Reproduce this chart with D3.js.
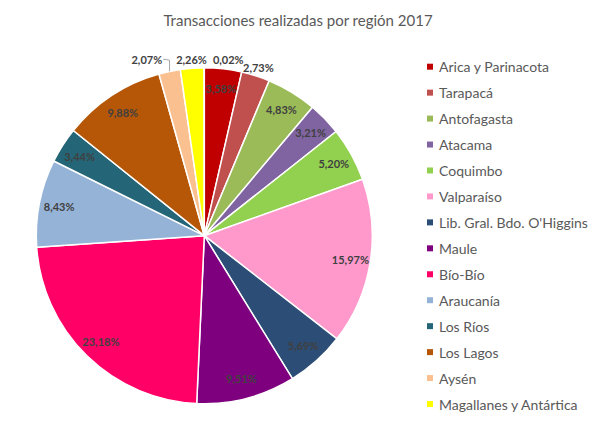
<!DOCTYPE html>
<html>
<head>
<meta charset="utf-8">
<script src="https://cdn.jsdelivr.net/npm/d3@7"></script>
<style>
  body { margin: 0; background: #fff; }
  svg { font-family: Lato, "Open Sans", sans-serif; }
</style>
</head>
<body>
<div id="chart"></div>
<script>
// Transacciones por región, 2017 (percent of total)
const regions = ["Arica y Parinacota", "Tarapacá", "Antofagasta", "Atacama", "Coquimbo",
  "Valparaíso", "Lib. Gral. Bdo. O'Higgins", "Maule", "Bío-Bío", "Araucanía",
  "Los Ríos", "Los Lagos", "Aysén", "Magallanes y Antártica", ""];
const values = [3.58, 2.73, 4.83, 3.21, 5.20, 15.97, 5.69, 9.51, 23.18, 8.43, 3.44, 9.88, 2.07, 2.26, 0.02];
const colors = ["#c00000", "#c0504d", "#9bbb59", "#8064a2", "#92d050", "#ff99cc", "#2c4d75",
  "#7f007f", "#ff0066", "#95b3d7", "#246677", "#b65708", "#fac090", "#ffff00", "#4bacc6"];
const title = "Transacciones realizadas por región 2017";

const width = 600, height = 434;
const cx = 204.3, cy = 235.7, R = 168;
const labelR = 148, outsideR = 177;

let data = regions.map((r, i) => ({ region: r, value: values[i], color: colors[i] }));

let svg = d3.select("#chart").append("svg")
  .attr("width", width)
  .attr("height", height);

svg.append("text")
  .attr("x", 298)
  .attr("y", 26)
  .attr("text-anchor", "middle")
  .attr("font-size", 15)
  .attr("fill", "#595959")
  .text(title);

let pie = d3.pie().sort(null).value(d => d.value);
let arc = d3.arc().innerRadius(0).outerRadius(R);
let arcs = pie(data);

let g = svg.append("g").attr("transform", "translate(" + cx + "," + cy + ")");

g.selectAll("path")
  .data(arcs)
  .enter()
  .append("path")
  .attr("d", arc)
  .attr("fill", d => d.data.color)
  .attr("stroke", "#fff")
  .attr("stroke-width", 1.5)
  .attr("stroke-linejoin", "round");

function fmt(v) {
  return v.toFixed(2).replace(".", ",") + "%";
}

// labels: inside if the text (roughly) fits along the arc, otherwise outside
let labels = g.append("g")
  .attr("font-size", 11)
  .attr("font-weight", "bold")
  .attr("fill", "#404040");

let placed = [];
arcs.forEach(d => {
  let mid = (d.startAngle + d.endAngle) / 2;
  let t = labels.append("text")
    .attr("text-anchor", "middle")
    .attr("dominant-baseline", "central")
    .text(fmt(d.data.value));
  let w = t.node().getComputedTextLength();
  let arcLen = (d.endAngle - d.startAngle) * labelR;
  let inside = arcLen > w - 3;
  let r = inside ? labelR : outsideR;
  d.lab = { node: t, w: w, h: 12, mid: mid, inside: inside,
            x: Math.sin(mid) * r, y: -Math.cos(mid) * r, x0: Math.sin(mid) * r };
});

// resolve overlaps among outside labels: bigger slices keep their spot,
// labels pushed counter-clockwise get extra room for a leader line
let outside = arcs.filter(d => !d.lab.inside)
  .sort((a, b) => b.data.value - a.data.value);
const gap = 6, leaderRoom = 8;
outside.forEach(d => {
  let L = d.lab;
  placed.forEach(p => {
    let P = p.lab;
    let overlapX = Math.abs(L.x - P.x) < (L.w + P.w) / 2 + gap;
    let overlapY = Math.abs(L.y - P.y) < (L.h + P.h) / 2;
    if (overlapX && overlapY) {
      let dir = L.x0 < P.x ? -1 : 1;
      let room = dir < 0 ? gap + leaderRoom : gap;
      L.x = P.x + dir * ((L.w + P.w) / 2 + room);
      L.y = P.y;
      L.moved = dir;
    }
  });
  placed.push(d);
});

arcs.forEach(d => {
  d.lab.node.attr("x", d.lab.x).attr("y", d.lab.y);
});

outside.filter(d => d.lab.moved === -1).forEach(d => {
  let L = d.lab;
  let ax = Math.sin(L.mid) * R, ay = -Math.cos(L.mid) * R;
  let ex = L.x + L.w / 2 + 1;
  g.append("path")
    .attr("d", d3.line()([[ex, L.y], [ax, L.y + 1], [ax, ay]]))
    .attr("fill", "none")
    .attr("stroke", "#a6a6a6")
    .attr("stroke-width", 1);
});

// legend
let legendData = data.filter(d => d.region !== "");
let ly = d3.scalePoint()
  .domain(legendData.map(d => d.region))
  .range([66.7, 404]);

let legend = svg.append("g")
  .selectAll("g")
  .data(legendData)
  .enter()
  .append("g")
  .attr("transform", d => "translate(427," + ly(d.region) + ")");

legend.append("rect")
  .attr("x", 0)
  .attr("y", -3)
  .attr("width", 6)
  .attr("height", 6)
  .attr("fill", d => d.color);

legend.append("text")
  .attr("x", 12)
  .attr("y", 0)
  .attr("dominant-baseline", "central")
  .attr("font-size", 14)
  .attr("fill", "#595959")
  .text(d => d.region);
</script>
</body>
</html>
